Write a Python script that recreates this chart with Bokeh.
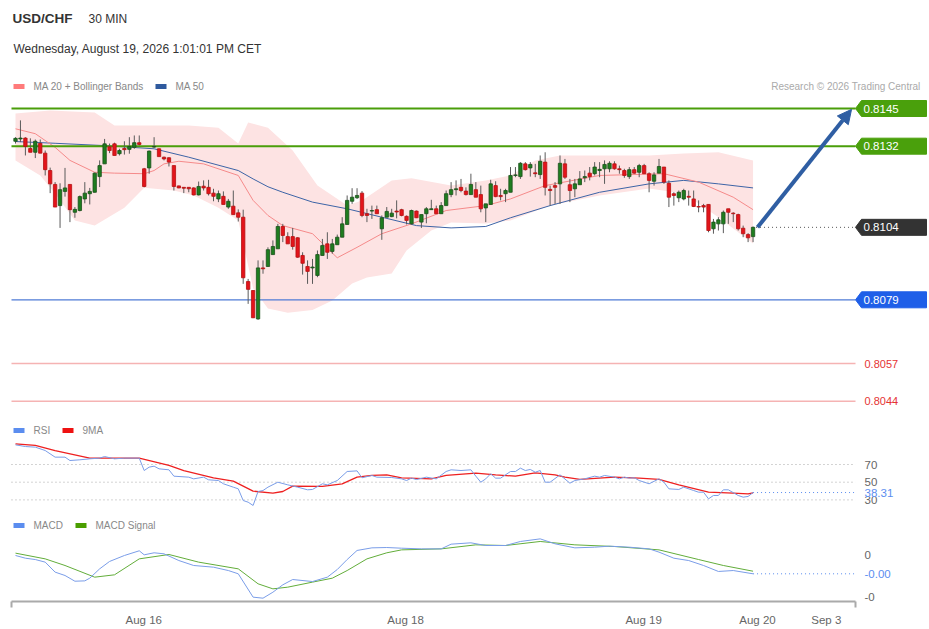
from bokeh.plotting import figure
from bokeh.models import Range1d, LinearAxis, FixedTicker, Label, Arrow, NormalHead, ColumnDataSource
from bokeh.embed import file_html
from bokeh.resources import INLINE

FONT = "Liberation Sans"

# ---------------- data ----------------
opens = [0.81337,0.81345,0.81348,0.81312,0.81299,0.81330,0.81296,0.81236,0.81188,0.81115,
         0.81164,0.81188,0.81092,0.81098,0.81138,0.81156,0.81161,0.81215,0.81259,0.81318,
         0.81328,0.81294,0.81312,0.81309,0.81316,0.81332,0.81242,0.81245,0.81317,0.81311,
         0.81282,0.81280,0.81253,0.81183,0.81178,0.81178,0.81176,0.81152,0.81182,0.81178,
         0.81158,0.81138,0.81147,0.81110,0.81113,0.81090,0.81075,0.80853,0.80822,0.80724,
         0.80900,0.80905,0.80946,0.80966,0.81043,0.81008,0.81008,0.81004,0.80943,0.80905,
         0.80900,0.80874,0.80943,0.80983,0.80957,0.80980,0.81006,0.81050,0.81130,0.81142,
         0.81158,0.81087,0.81096,0.81101,0.81035,0.81075,0.81077,0.81096,0.81101,0.81078,
         0.81052,0.81096,0.81058,0.81087,0.81101,0.81104,0.81087,0.81115,0.81153,0.81170,
         0.81178,0.81165,0.81153,0.81170,0.81153,0.81107,0.81119,0.81184,0.81150,0.81156,
         0.81161,0.81219,0.81215,0.81259,0.81245,0.81228,0.81222,0.81265,0.81171,0.81184,
         0.81190,0.81259,0.81187,0.81173,0.81187,0.81211,0.81227,0.81225,0.81236,0.81242,
         0.81242,0.81259,0.81242,0.81236,0.81215,0.81239,0.81230,0.81253,0.81225,0.81199,
         0.81227,0.81248,0.81192,0.81156,0.81142,0.81138,0.81147,0.81138,0.81112,0.81115,
         0.81119,0.81035,0.81052,0.81052,0.81104,0.81089,0.81084,0.81037,0.81015,0.81008]
highs = [0.81351,0.81409,0.81351,0.81347,0.81343,0.81343,0.81305,0.81246,0.81196,0.81192,
         0.81245,0.81188,0.81110,0.81150,0.81196,0.81176,0.81229,0.81271,0.81345,0.81329,
         0.81332,0.81311,0.81337,0.81351,0.81357,0.81357,0.81245,0.81305,0.81351,0.81312,
         0.81284,0.81282,0.81253,0.81184,0.81178,0.81178,0.81178,0.81198,0.81202,0.81204,
         0.81173,0.81167,0.81164,0.81138,0.81167,0.81102,0.81101,0.80862,0.80823,0.80926,
         0.80926,0.80971,0.80995,0.81052,0.81052,0.81023,0.81038,0.81006,0.80954,0.80926,
         0.80931,0.80960,0.81000,0.81023,0.81000,0.81015,0.81075,0.81150,0.81175,0.81175,
         0.81165,0.81104,0.81115,0.81115,0.81081,0.81110,0.81104,0.81133,0.81104,0.81081,
         0.81101,0.81098,0.81084,0.81110,0.81135,0.81115,0.81127,0.81167,0.81196,0.81202,
         0.81207,0.81178,0.81225,0.81196,0.81184,0.81121,0.81204,0.81199,0.81173,0.81173,
         0.81248,0.81248,0.81265,0.81265,0.81265,0.81259,0.81288,0.81299,0.81184,0.81196,
         0.81288,0.81276,0.81207,0.81207,0.81234,0.81236,0.81248,0.81265,0.81265,0.81271,
         0.81268,0.81268,0.81253,0.81242,0.81248,0.81248,0.81259,0.81259,0.81230,0.81230,
         0.81276,0.81248,0.81202,0.81161,0.81167,0.81173,0.81167,0.81167,0.81133,0.81121,
         0.81119,0.81069,0.81075,0.81098,0.81104,0.81092,0.81087,0.81046,0.81020,0.81043]
lows = [0.81329,0.81334,0.81288,0.81299,0.81279,0.81296,0.81219,0.81158,0.81110,0.81038,
        0.81146,0.81058,0.81073,0.81095,0.81123,0.81119,0.81160,0.81179,0.81259,0.81296,
        0.81288,0.81288,0.81291,0.81294,0.81311,0.81322,0.81178,0.81225,0.81314,0.81284,
        0.81271,0.81250,0.81167,0.81175,0.81158,0.81161,0.81150,0.81150,0.81167,0.81150,
        0.81130,0.81127,0.81119,0.81104,0.81084,0.81060,0.80845,0.80776,0.80727,0.80721,
        0.80880,0.80905,0.80946,0.80966,0.80989,0.80983,0.80963,0.80935,0.80877,0.80845,
        0.80845,0.80868,0.80943,0.80931,0.80949,0.80980,0.81006,0.81050,0.81121,0.81138,
        0.81075,0.81058,0.81069,0.81087,0.80997,0.81075,0.81075,0.81071,0.81078,0.81050,
        0.81050,0.81072,0.81038,0.81054,0.81100,0.81087,0.81087,0.81115,0.81144,0.81150,
        0.81161,0.81150,0.81153,0.81144,0.81092,0.81058,0.81119,0.81144,0.81133,0.81127,
        0.81161,0.81213,0.81207,0.81236,0.81215,0.81213,0.81207,0.81150,0.81115,0.81121,
        0.81121,0.81207,0.81127,0.81144,0.81187,0.81196,0.81202,0.81219,0.81213,0.81190,
        0.81230,0.81239,0.81225,0.81211,0.81207,0.81225,0.81213,0.81225,0.81161,0.81184,
        0.81227,0.81190,0.81110,0.81115,0.81127,0.81133,0.81115,0.81110,0.81092,0.81092,
        0.81023,0.81018,0.81029,0.81020,0.81052,0.81058,0.81029,0.81006,0.80989,0.80989]
closes = [0.81347,0.81348,0.81319,0.81299,0.81337,0.81296,0.81239,0.81190,0.81110,0.81170,
          0.81176,0.81101,0.81102,0.81146,0.81158,0.81164,0.81227,0.81253,0.81328,0.81305,
          0.81288,0.81305,0.81308,0.81319,0.81332,0.81326,0.81181,0.81303,0.81319,0.81284,
          0.81276,0.81265,0.81181,0.81176,0.81175,0.81173,0.81152,0.81181,0.81176,0.81156,
          0.81147,0.81156,0.81119,0.81130,0.81084,0.81075,0.80866,0.80826,0.80728,0.80900,
          0.80897,0.80963,0.80974,0.81043,0.81012,0.80983,0.80974,0.80937,0.80916,0.80888,
          0.80903,0.80946,0.80977,0.80954,0.80983,0.81006,0.81052,0.81133,0.81144,0.81150,
          0.81081,0.81081,0.81098,0.81087,0.81073,0.81095,0.81089,0.81093,0.81081,0.81064,
          0.81098,0.81073,0.81084,0.81104,0.81104,0.81087,0.81115,0.81156,0.81170,0.81173,
          0.81167,0.81153,0.81188,0.81144,0.81104,0.81121,0.81190,0.81146,0.81146,0.81167,
          0.81219,0.81221,0.81261,0.81239,0.81257,0.81225,0.81268,0.81178,0.81167,0.81178,
          0.81261,0.81213,0.81167,0.81190,0.81207,0.81215,0.81215,0.81248,0.81240,0.81257,
          0.81261,0.81242,0.81239,0.81219,0.81239,0.81227,0.81253,0.81225,0.81202,0.81221,
          0.81250,0.81196,0.81144,0.81150,0.81161,0.81167,0.81144,0.81112,0.81110,0.81110,
          0.81029,0.81058,0.81066,0.81092,0.81092,0.81087,0.81035,0.81018,0.81004,0.81040]

ma20_idx = [0,4,8,11,16,20,26,28,30,33,38,45,48,51,54,60,65,69,74,80,87,95,100,107,118,131,138,145,149]
ma20 = [0.81380,0.81363,0.81316,0.81271,0.81230,0.81227,0.81225,0.81236,0.81259,0.81268,0.81259,0.81219,
        0.81133,0.81081,0.81046,0.81018,0.80935,0.80971,0.81018,0.81052,0.81098,0.81115,0.81138,0.81184,
        0.81219,0.81225,0.81196,0.81144,0.81101]
ma50_idx = [0,8,18,28,35,45,48,51,54,60,67,74,81,88,95,100,108,118,128,135,142,149]
ma50 = [0.81336,0.81330,0.81322,0.81311,0.81282,0.81236,0.81207,0.81180,0.81161,0.81127,0.81104,
        0.81075,0.81046,0.81038,0.81043,0.81073,0.81115,0.81161,0.81190,0.81202,0.81190,0.81176]
bb_up_idx = [0,7,16,20,26,35,41,45,47,51,56,61,67,70,76,80,88,95,100,105,110,118,128,135,142,149]
bb_up = [0.81433,0.81443,0.81436,0.81391,0.81391,0.81391,0.81384,0.81329,0.81402,0.81384,0.81305,0.81184,
         0.81115,0.81133,0.81202,0.81209,0.81184,0.81202,0.81219,0.81271,0.81288,0.81288,0.81288,0.81295,
         0.81299,0.81271]
bb_lo_idx = [0,5,8,12,16,22,26,32,36,41,45,48,51,55,60,64,68,71,76,79,84,88,95,100,108,118,128,135,142,149]
bb_lo = [0.81271,0.81219,0.81157,0.81064,0.81046,0.81108,0.81177,0.81167,0.81150,0.81108,0.81064,0.80830,
         0.80760,0.80745,0.80755,0.80788,0.80846,0.80867,0.80881,0.80960,0.81029,0.81057,0.81053,0.81064,
         0.81115,0.81150,0.81174,0.81157,0.81075,0.80984]

rsi_idx = [0,2,4,6,8,10,11,13,15,17,18,20,22,25,26,27,28,29,31,32,35,36,38,39,41,42,44,45,46,47,48,49,50,51,
           53,55,57,59,60,62,63,65,67,69,70,72,73,76,78,79,80,81,83,85,87,88,90,92,93,94,95,96,97,98,100,101,
           102,103,104,105,106,107,108,110,112,113,115,117,118,119,121,122,123,124,125,126,128,130,131,132,
           134,135,137,138,139,140,141,142,143,144,146,147,148,149]
rsi = [92.2,90.3,89.6,85.8,78.3,78.3,74.5,75.3,76.4,77.2,79.0,76.4,77.2,77.2,63.2,67.0,68.1,65.1,64.0,56.8,
       55.7,53.8,55.7,52.7,51.9,48.2,44.4,42.5,29.3,27.4,23.7,39.5,40.6,44.4,50.0,47.0,44.4,41.4,41.8,48.2,
       47.0,51.9,62.1,62.8,55.0,57.6,55.7,55.3,53.8,51.9,54.6,53.0,55.7,53.8,62.1,64.0,63.2,64.0,56.8,50.0,
       53.8,59.5,54.6,54.6,62.1,62.1,65.9,63.2,64.4,61.3,63.2,50.0,50.0,58.3,48.9,51.9,53.8,56.8,55.7,57.6,
       55.7,53.8,55.7,54.6,55.0,51.9,48.2,53.8,50.0,42.5,41.8,44.4,40.6,38.7,38.7,31.2,35.0,35.0,41.4,41.4,
       35.0,33.1,33.9,38.31]
rsi_ma_idx = [0,4,8,15,25,31,34,40,44,48,52,54,56,62,66,69,72,75,78,84,87,93,97,101,105,109,111,114,121,
              126,130,134,140,145,148,149]
rsi_ma = [93.4,91.5,85.8,77.2,77.2,68.9,63.2,54.9,51.2,39.9,37.6,39.5,45.5,45.2,48.2,55.7,57.6,58.3,55.0,
          53.8,57.6,60.2,58.3,56.8,60.6,58.3,55.7,53.1,55.7,54.6,53.1,47.0,38.7,37.6,36.9,38.0]
rsi_levels = [70, 50, 30]

macd_idx = [0,2,4,6,8,10,12,14,15,17,19,22,25,26,28,30,33,36,40,43,45,48,50,52,54,56,60,63,65,67,69,72,75,
            78,82,86,88,92,95,99,102,106,109,113,117,120,124,128,130,133,136,139,142,145,149]
macd = [0.0,-0.000032,-0.000048,-0.000079,-0.000198,-0.000238,-0.000306,-0.000302,-0.000270,-0.000159,
        -0.000071,0.0,0.000056,0.000008,0.000032,0.000020,-0.000060,-0.000119,-0.000139,-0.000179,-0.000218,
        -0.000496,-0.000508,-0.000437,-0.000349,-0.000286,-0.000310,-0.000258,-0.000167,-0.000048,0.000060,
        0.000091,0.000095,0.000087,0.000079,0.000079,0.000135,0.000151,0.000119,0.000119,0.000167,0.000198,
        0.000139,0.000091,0.000099,0.000111,0.000099,0.000079,0.000040,-0.000032,-0.000060,-0.000119,
        -0.000190,-0.000179,-0.000218]
signal_idx = [0,6,10,16,20,25,31,37,45,49,52,55,60,64,67,71,75,78,86,93,99,106,113,121,130,138,143,149]
signal = [0.000028,-0.000040,-0.000119,-0.000258,-0.000230,-0.000040,0.000012,-0.000079,-0.000159,-0.000337,
          -0.000397,-0.000377,-0.000317,-0.000270,-0.000179,-0.000040,0.000032,0.000067,0.000079,0.000127,
          0.000119,0.000167,0.000127,0.000107,0.000067,-0.000048,-0.000119,-0.000187]
macd_ticks = [0.0, -0.0005]
macd_tick_labels = ["0", "-0"]

resistance = [0.8145, 0.8132]
support = [0.8079]
targets_down = [0.8057, 0.8044]
last_price = 0.8104

tick_pos = [25.9, 78.8, 126.9, 149.9, 163.8]
tick_labels = ["Aug 16", "Aug 18", "Aug 19", "Aug 20", "Sep 3"]

# ---------------- layout constants ----------------
X_LEFT, X_RIGHT = -0.81, 169.7     # axis / level line extent (candle-index units)
TAG_H = 0.000276                   # half-height of a price tag, price units

p = figure(width=929, height=629, output_backend="svg", toolbar_location=None,
           x_axis_type=None, y_axis_type=None,
           x_range=Range1d(-3.0303, 184.646), y_range=Range1d(0.7974915, 0.818226),
           min_border_left=0, min_border_right=0, min_border_top=0, min_border_bottom=28)
p.outline_line_color = None
p.background_fill_color = "white"
p.border_fill_color = "white"
p.extra_x_ranges = {"refx": Range1d(0, 929)}
p.extra_y_ranges = {"refy": Range1d(601, 0),
                    "rsi": Range1d(-84.80, 594.29),
                    "macd": Range1d(-0.00054762, 0.0066071)}

# Bollinger band
p.patch(bb_up_idx + bb_lo_idx[::-1], bb_up + bb_lo[::-1], fill_color="#fde3e3", line_color=None)
p.line(ma50_idx, ma50, line_color="#3d64a6", line_width=1)
p.line(ma20_idx, ma20, line_color="#f58a8a", line_width=1)

# level lines
for lv in resistance:
    p.segment(x0=X_LEFT, y0=lv, x1=X_RIGHT, y1=lv, line_color="#4a9e0a", line_width=2)
for lv in support:
    p.segment(x0=X_LEFT, y0=lv, x1=X_RIGHT, y1=lv, line_color="#4f7bd6", line_width=1.2)
for lv in targets_down:
    p.segment(x0=X_LEFT, y0=lv, x1=X_RIGHT, y1=lv, line_color="#f5b3b3", line_width=1.5)

# candles
idx = list(range(len(opens)))
is_up = [c >= o for o, c in zip(opens, closes)]
src = ColumnDataSource(dict(
    x=idx, h=highs, l=lows,
    top=[max(o, c) for o, c in zip(opens, closes)],
    bot=[min(o, c) for o, c in zip(opens, closes)],
    fill=["#1f7d1f" if u else "#e3141b" for u in is_up],
    line=["#1a4f1a" if u else "#b51111" for u in is_up],
))
p.segment(x0="x", y0="h", x1="x", y1="l", source=src, line_color="#5a5a5a", line_width=1)
p.vbar(x="x", width=0.68, top="top", bottom="bot", fill_color="fill", line_color="line",
       line_width=0.8, source=src)

# last price dotted
p.segment(x0=idx[-1] + 0.6, y0=last_price, x1=X_RIGHT - 0.5, y1=last_price,
          line_color="#555555", line_width=1, line_dash="1 3")

# arrow
AC = "#2f5ea3"
p.add_layout(Arrow(end=NormalHead(size=14, fill_color=AC, line_color=AC),
                   x_start=idx[-1] + 0.9, y_start=last_price, x_end=168.9, y_end=resistance[0] - 0.00003,
                   line_color=AC, line_width=4))

# RSI panel
for lv in rsi_levels:
    p.segment(x0=X_LEFT, y0=lv, x1=X_RIGHT, y1=lv, y_range_name="rsi",
              line_color="#a8a8a8", line_width=1, line_dash="1 3")
p.line(rsi_ma_idx, rsi_ma, y_range_name="rsi", line_color="#ee2020", line_width=1.3)
p.line(rsi_idx, rsi, y_range_name="rsi", line_color="#7a9de8", line_width=1)
p.segment(x0=rsi_idx[-1], y0=rsi[-1], x1=X_RIGHT, y1=rsi[-1], y_range_name="rsi",
          line_color="#5b8def", line_width=1, line_dash="1 3")

# MACD panel
p.line(signal_idx, signal, y_range_name="macd", line_color="#62ad3a", line_width=1)
p.line(macd_idx, macd, y_range_name="macd", line_color="#7a9de8", line_width=1)
p.segment(x0=macd_idx[-1], y0=macd[-1], x1=X_RIGHT, y1=macd[-1], y_range_name="macd",
          line_color="#5b8def", line_width=1, line_dash="1 3")

# price tags
def tag(price, color, text_color="white"):
    p.patch([855, 861, 926, 926, 861], [price, price + TAG_H, price + TAG_H, price - TAG_H, price - TAG_H],
            x_range_name="refx", fill_color=color, line_color=color)
    p.add_layout(Label(x=863, y=price, x_range_name="refx", text=f"{price:.4f}", text_color=text_color,
                       text_font=FONT, text_font_size="11.5px", text_baseline="middle"))

for lv in resistance:
    tag(lv, "#4aa00c")
tag(last_price, "#333333")
for lv in support:
    tag(lv, "#1f5fe8")
for lv in targets_down:
    p.add_layout(Label(x=864, y=lv, x_range_name="refx", text=f"{lv:.4f}", text_color="#e53333",
                       text_font=FONT, text_font_size="11px", text_baseline="middle"))

def txt(x, y, s, size="10px", color="#888888", style="normal", align="left", yr="refy", bg=None):
    lab = Label(x=x, y=y, text=s, x_range_name="refx", y_range_name=yr, text_font=FONT,
                text_font_size=size, text_color=color, text_font_style=style, text_align=align,
                text_baseline="middle")
    if bg:
        lab.background_fill_color = bg
    p.add_layout(lab)

# right-side panel labels
for lv in rsi_levels:
    txt(864, lv, str(lv), size="11.5px", color="#666666", yr="rsi")
txt(864, rsi[-1], f"{rsi[-1]:.2f}", size="11.5px", color="#5b8def", yr="rsi", bg="white")
for v, s in zip(macd_ticks, macd_tick_labels):
    txt(864, v, s, size="11.5px", color="#666666", yr="macd")
txt(864, macd[-1], f"{macd[-1]:.2f}", size="11.5px", color="#5b8def", yr="macd", bg="white")

# header texts
txt(12, 18, "USD/CHF", size="13.5px", color="#333333", style="bold")
txt(88, 18, "30 MIN", size="12px", color="#333333")
txt(13, 48, "Wednesday, August 19, 2026 1:01:01 PM CET", size="12px", color="#333333")
txt(920, 86, "Research \u00a9 2026 Trading Central", size="10px", color="#aaaaaa", align="right")

# legends
def swatch(x0, y, color):
    p.quad(left=x0, right=x0 + 11, top=y - 2.5, bottom=y + 2.5, x_range_name="refx", y_range_name="refy",
           fill_color=color, line_color=None)

swatch(13, 86, "#ff7b7b"); txt(33, 86, "MA 20 + Bollinger Bands")
swatch(155, 86, "#2f5a9e"); txt(175, 86, "MA 50")
swatch(13, 430, "#5b8def"); txt(33, 430, "RSI")
swatch(62, 430, "#ee1111"); txt(82, 430, "9MA")
swatch(13, 525, "#5b8def"); txt(33, 525, "MACD")
swatch(75, 525, "#4a9e00"); txt(95, 525, "MACD Signal")

# x axis
ax = LinearAxis(ticker=FixedTicker(ticks=tick_pos, minor_ticks=[X_LEFT, X_RIGHT]),
                major_label_overrides=dict(zip(tick_pos, tick_labels)),
                bounds=(X_LEFT, X_RIGHT))
ax.axis_line_color = "#aaaaaa"
ax.axis_line_width = 2
ax.major_tick_line_color = None
ax.major_tick_out = 0
ax.major_tick_in = 0
ax.minor_tick_line_color = "#aaaaaa"
ax.minor_tick_line_width = 2
ax.minor_tick_in = 0
ax.minor_tick_out = 6
ax.major_label_standoff = 6
ax.major_label_text_font = FONT
ax.major_label_text_font_size = "11.5px"
ax.major_label_text_color = "#666666"
p.add_layout(ax, "below")

open("out.html", "w").write(file_html(p, INLINE))
